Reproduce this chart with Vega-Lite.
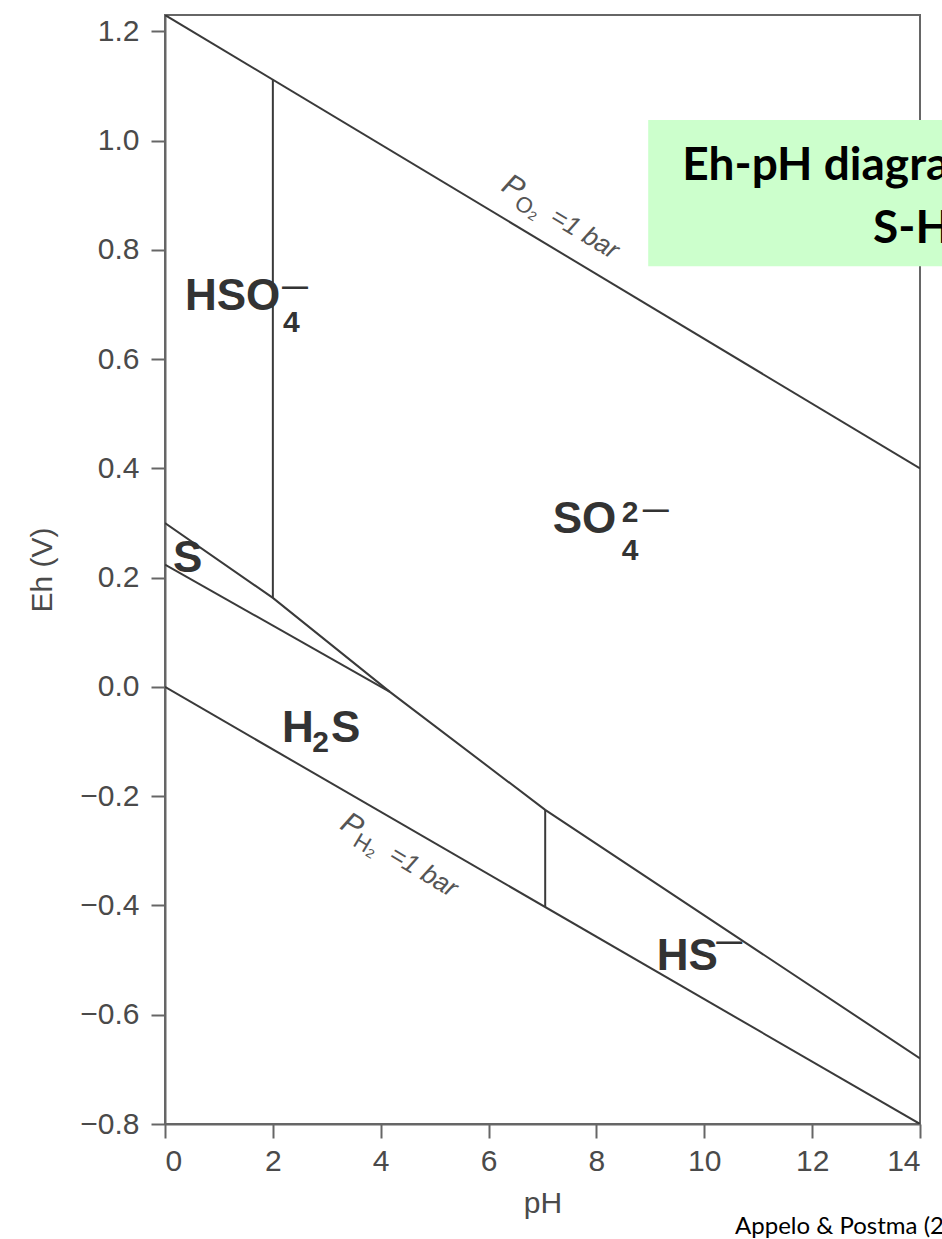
{
  "$schema": "https://vega.github.io/schema/vega-lite/v6.json",
  "autosize": {"type": "none"},
  "width": 755,
  "height": 1109,
  "padding": {"left": 165, "top": 15, "right": 22, "bottom": 115},
  "background": "white",
  "config": {
    "view": {"stroke": "#666666", "strokeWidth": 2},
    "axis": {
      "labelFont": "Liberation Sans", "titleFont": "Liberation Sans",
      "labelColor": "#4a4a4a", "titleColor": "#4a4a4a",
      "labelFontSize": 30, "titleFontSize": 30, "titleFontWeight": "normal",
      "domainColor": "#666666", "domainWidth": 2,
      "tickColor": "#666666", "tickWidth": 2, "tickSize": 14,
      "grid": false
    }
  },
  "datasets": {
    "lines": [
      {"seg": "O2", "o": 0, "pH": 0, "Eh": 1.23},
      {"seg": "O2", "o": 1, "pH": 14, "Eh": 0.40},
      {"seg": "H2", "o": 0, "pH": 0, "Eh": 0.0},
      {"seg": "H2", "o": 1, "pH": 14, "Eh": -0.80},
      {"seg": "HSO4_SO4", "o": 0, "pH": 2.0, "Eh": 1.112},
      {"seg": "HSO4_SO4", "o": 1, "pH": 2.0, "Eh": 0.163},
      {"seg": "upper", "o": 0, "pH": 0, "Eh": 0.30},
      {"seg": "upper", "o": 1, "pH": 2.0, "Eh": 0.163},
      {"seg": "upper", "o": 2, "pH": 4.17, "Eh": -0.009},
      {"seg": "upper", "o": 3, "pH": 7.05, "Eh": -0.225},
      {"seg": "upper", "o": 4, "pH": 14, "Eh": -0.68},
      {"seg": "S_H2S", "o": 0, "pH": 0, "Eh": 0.224},
      {"seg": "S_H2S", "o": 1, "pH": 4.17, "Eh": -0.009},
      {"seg": "H2S_HS", "o": 0, "pH": 7.05, "Eh": -0.225},
      {"seg": "H2S_HS", "o": 1, "pH": 7.05, "Eh": -0.403}
    ],
    "labels": [
      {"kind": "main", "text": "HSO", "pH": 0.37, "Eh": 0.690},
      {"kind": "main", "text": "S", "pH": 0.15, "Eh": 0.210},
      {"kind": "main", "text": "H", "pH": 2.17, "Eh": -0.101},
      {"kind": "main", "text": "S", "pH": 3.08, "Eh": -0.101},
      {"kind": "main", "text": "SO", "pH": 7.19, "Eh": 0.282},
      {"kind": "main", "text": "HS", "pH": 9.12, "Eh": -0.518},
      {"kind": "small", "text": "4", "pH": 2.19, "Eh": 0.650},
      {"kind": "small", "text": "2", "pH": 2.73, "Eh": -0.119},
      {"kind": "small", "text": "2", "pH": 8.47, "Eh": 0.302},
      {"kind": "small", "text": "4", "pH": 8.47, "Eh": 0.232},
      {"kind": "minus", "text": "—", "pH": 2.17, "Eh": 0.732},
      {"kind": "minus", "text": "—", "pH": 8.86, "Eh": 0.324},
      {"kind": "minus", "text": "—", "pH": 10.22, "Eh": -0.467}
    ],
    "pressure": [
      {"gas": "O₂", "pH": 6.21, "Eh": 0.910},
      {"gas": "H₂", "pH": 3.22, "Eh": -0.258}
    ],
    "box": [
      {"pH": 8.96, "pH2": 14.41, "Eh": 1.038, "Eh2": 0.770}
    ],
    "titles": [
      {"text": "Eh-pH diagram for the", "pH": 9.59, "Eh": 0.928},
      {"text": "S-H₂O system", "pH": 13.13, "Eh": 0.812}
    ],
    "source": [
      {"text": "Appelo & Postma (2005)", "pH": 10.57, "Eh": -1.002}
    ]
  },
  "encoding": {
    "x": {"field": "pH", "type": "quantitative", "scale": {"domain": [0, 14], "nice": false, "zero": false}},
    "y": {"field": "Eh", "type": "quantitative", "scale": {"domain": [-0.8, 1.23], "nice": false, "zero": false}}
  },
  "layer": [
    {
      "data": {"name": "lines"},
      "mark": {"type": "line", "color": "#3a3a3a", "strokeWidth": 2, "clip": true},
      "encoding": {
        "x": {"field": "pH", "type": "quantitative",
              "axis": {"title": "pH", "values": [0, 2, 4, 6, 8, 10, 12, 14], "labelPadding": 8, "titlePadding": 12}},
        "y": {"field": "Eh", "type": "quantitative",
              "axis": {"title": "Eh (V)", "values": [-0.8, -0.6, -0.4, -0.2, 0, 0.2, 0.4, 0.6, 0.8, 1.0, 1.2], "format": ".1f", "labelPadding": 12, "titlePadding": 22}},
        "detail": {"field": "seg"},
        "order": {"field": "o"}
      }
    },
    {
      "data": {"name": "labels"},
      "transform": [{"filter": "datum.kind === 'main'"}],
      "mark": {"type": "text", "font": "Liberation Sans", "fontWeight": "bold", "fontSize": 44, "color": "#333333", "align": "left", "baseline": "alphabetic"},
      "encoding": {"text": {"field": "text"}}
    },
    {
      "data": {"name": "labels"},
      "transform": [{"filter": "datum.kind === 'small'"}],
      "mark": {"type": "text", "font": "Liberation Sans", "fontWeight": "bold", "fontSize": 30, "color": "#333333", "align": "left", "baseline": "alphabetic"},
      "encoding": {"text": {"field": "text"}}
    },
    {
      "data": {"name": "labels"},
      "transform": [{"filter": "datum.kind === 'minus'"}],
      "mark": {"type": "text", "font": "Liberation Sans", "fontWeight": "bold", "fontSize": 26, "color": "#333333", "align": "left", "baseline": "middle"},
      "encoding": {"text": {"field": "text"}}
    },
    {
      "data": {"name": "pressure"},
      "mark": {"type": "text", "font": "Liberation Sans", "fontStyle": "italic", "fontSize": 30, "color": "#555555", "align": "left", "baseline": "alphabetic", "angle": 31},
      "encoding": {"text": {"value": "P"}}
    },
    {
      "data": {"name": "pressure"},
      "mark": {"type": "text", "font": "Liberation Sans", "fontSize": 22, "color": "#555555", "align": "left", "baseline": "alphabetic", "angle": 31, "dx": 20, "dy": 8},
      "encoding": {"text": {"field": "gas"}}
    },
    {
      "data": {"name": "pressure"},
      "mark": {"type": "text", "font": "Liberation Sans", "fontStyle": "italic", "fontSize": 26, "color": "#555555", "align": "left", "baseline": "alphabetic", "angle": 31, "dx": 58, "dy": 2},
      "encoding": {"text": {"value": "=1 bar"}}
    },
    {
      "data": {"name": "box"},
      "mark": {"type": "rect", "color": "#ccffcc", "clip": false},
      "encoding": {"x2": {"field": "pH2"}, "y2": {"field": "Eh2"}}
    },
    {
      "data": {"name": "titles"},
      "mark": {"type": "text", "font": "Lato", "fontWeight": "bold", "fontSize": 46, "color": "#000000", "align": "left", "baseline": "alphabetic", "clip": false},
      "encoding": {"text": {"field": "text"}}
    },
    {
      "data": {"name": "source"},
      "mark": {"type": "text", "font": "Lato", "fontSize": 24, "color": "#000000", "align": "left", "baseline": "alphabetic", "clip": false},
      "encoding": {"text": {"field": "text"}}
    }
  ]
}
